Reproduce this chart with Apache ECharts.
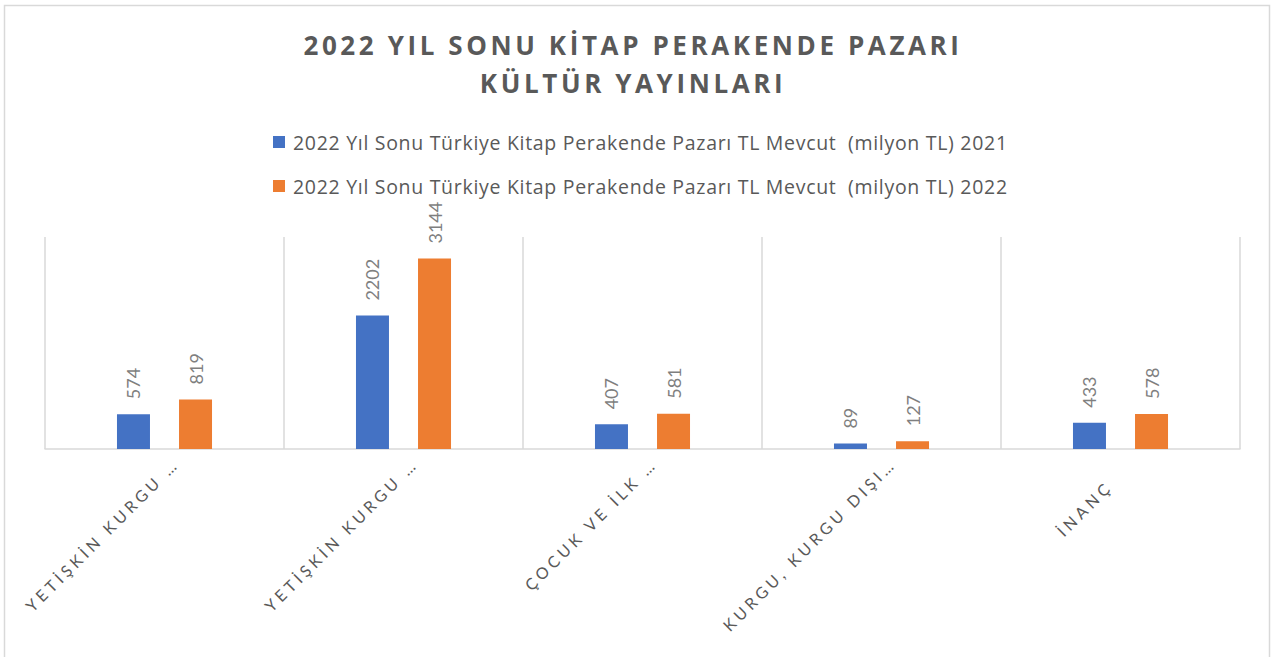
<!DOCTYPE html>
<html>
<head>
<meta charset="utf-8">
<script src="https://cdn.jsdelivr.net/npm/echarts@6/dist/echarts.min.js"></script>
<style>
body { margin: 0; background: #fff; }
#main { width: 1278px; height: 657px; }
#main text { white-space: pre; }
</style>
</head>
<body>
<div id="main"></div>
<script>
var categories = ['YETİŞKİN KURGU …', 'YETİŞKİN KURGU …', 'ÇOCUK VE İLK …', 'KURGU, KURGU DIŞI…', 'İNANÇ'];
var seriesNames = [
  '2022 Yıl Sonu Türkiye Kitap Perakende Pazarı TL Mevcut  (milyon TL) 2021',
  '2022 Yıl Sonu Türkiye Kitap Perakende Pazarı TL Mevcut  (milyon TL) 2022'
];
var values2021 = [574, 2202, 407, 89, 433];
var values2022 = [819, 3144, 581, 127, 578];
var colors = ['#4472c4', '#ed7d31'];

var myChart = echarts.init(document.getElementById('main'), null, { renderer: 'svg' });

var barLabel = {
  show: true,
  position: 'top',
  rotate: 90,
  align: 'left',
  verticalAlign: 'middle',
  distance: 15,
  color: '#7f7f7f',
  fontSize: 18,
  fontFamily: 'Lato'
};

var axisText = { align: 'right', fontSize: 16, fontFamily: 'Lato', color: '#595959' };

var option = {
  animation: false,
  backgroundColor: '#fff',
  color: colors,
  title: {
    text: '2022 YIL SONU KİTAP PERAKENDE PAZARI\nKÜLTÜR YAYINLARI',
    left: 628,
    textAlign: 'center',
    top: 21,
    textStyle: {
      fontSize: 26,
      fontWeight: 'bold',
      fontFamily: 'Open Sans',
      color: '#595959',
      lineHeight: 38
    }
  },
  legend: {
    orient: 'vertical',
    left: 268,
    top: 126,
    icon: 'rect',
    itemWidth: 12,
    itemHeight: 12,
    itemGap: 22,
    data: seriesNames,
    textStyle: {
      fontSize: 19.5,
      fontFamily: 'Open Sans',
      color: '#595959',
      lineHeight: 22,
      padding: [0, 0, 0, 3]
    }
  },
  graphic: [{
    type: 'rect',
    shape: { x: 4.5, y: 5.5, width: 1265, height: 700 },
    style: { fill: 'none', stroke: '#d9d9d9', lineWidth: 1.5 },
    silent: true
  }],
  grid: { left: 45, right: 38, top: 237, bottom: 208 },
  xAxis: {
    type: 'category',
    data: categories,
    axisTick: { show: false },
    axisLine: { lineStyle: { color: '#d9d9d9', width: 1.5 } },
    splitLine: { show: true, lineStyle: { color: '#d9d9d9', width: 1.5 } },
    axisLabel: {
      interval: 0,
      rotate: 45,
      margin: 23,
      formatter: function (v) {
        // kesilmiş (…) etiketler biraz daha yukarı kayar
        return (v.slice(-1) === '…' ? '{long|' : '{short|') + v + '}';
      },
      rich: {
        long: Object.assign({ padding: [0, -16, 0, 0] }, axisText),
        short: Object.assign({ padding: [0, 16, 0, 0] }, axisText)
      }
    }
  },
  yAxis: {
    type: 'value',
    min: 0,
    max: 3500,
    show: false
  },
  series: [
    {
      name: seriesNames[0],
      type: 'bar',
      barWidth: 33,
      barGap: '88%',
      data: values2021,
      label: barLabel
    },
    {
      name: seriesNames[1],
      type: 'bar',
      barWidth: 33,
      barGap: '88%',
      data: values2022,
      label: barLabel
    }
  ]
};

// başlık, lejant ve eksen etiketleri harf aralıklı
function spaceLetters() {
  document.querySelectorAll('#main text').forEach(function (t) {
    var fs = getComputedStyle(t).fontSize;
    if (fs === '26px') t.style.letterSpacing = '3.6px';
    else if (fs === '16px') t.style.letterSpacing = '4px';
    else if (fs === '19.5px') t.style.letterSpacing = '0.7px';
  });
}

myChart.on('finished', spaceLetters);
myChart.setOption(option);
spaceLetters();
</script>
</body>
</html>
